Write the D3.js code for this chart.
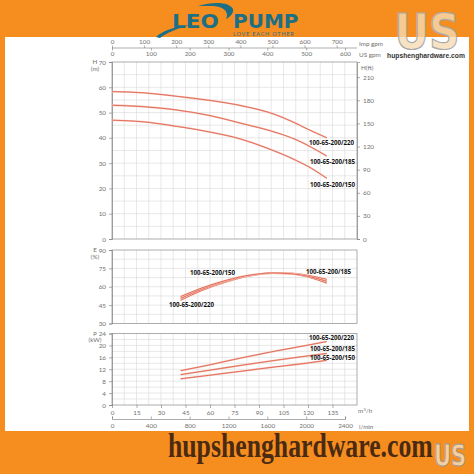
<!DOCTYPE html>
<html><head><meta charset="utf-8">
<script src="https://cdn.jsdelivr.net/npm/d3@7"></script>
<style>
html,body{margin:0;padding:0;background:#f68d1f;}
svg{display:block;}
</style></head>
<body>
<svg id="c" width="474" height="474"></svg>
<script>
// ---------- data ----------
const models = ["100-65-200/220", "100-65-200/185", "100-65-200/150"];
const headQ = [[0,20,40,60,80,100,110,120,131.5],[0,20,40,60,80,100,113,122,131.5],[0,20,40,60,80,93,113,122,131.5]];
const headH = [[58.3,57.8,56.4,54.8,52.6,49.2,46.5,43.4,40],[52.9,52.3,51,48.8,45.6,42.2,39.2,36.3,32.8],[47,46.3,44.5,42.3,39.3,36.4,31,28,24]];
const effQ = [42,55,70,85,98,110,120,131.5];
const effE = [[49,57,64,69,71.2,70.5,68,63],[50.5,58,64.6,69.2,71.2,71,69.3,66],[52,59,65.3,69.6,71.2,70.6,68.5,64.5]];
const powQ = [42,60,80,100,120,131.5];
const powP = [[11.5,13.5,15.9,18.1,20.1,21.3],[10.2,11.7,13.4,15,16.5,17.3],[8.8,10,11.4,12.8,14.1,15]];
const qTicks = [0,15,30,45,60,75,90,105,120,135];
const impTicks = [0,100,200,300,400,500,600,700];
const usTicks = [0,100,200,300,400,500,600];
const lminTicks = [0,400,800,1200,1600,2000,2400];
const hTicks = [0,10,20,30,40,50,60,70];
const ftTicks = [0,30,60,90,120,150,180,210];
const eTicks = [30,45,60,75,90];
const pTicks = [0,4,8,12,16,20,24];

const svg = d3.select("#c");
const FONT = "Lato, 'Open Sans', sans-serif";
const TICKC = "#6f6f6f";

// background
svg.append("rect").attr("width",474).attr("height",474).attr("fill","#f68d1f");
svg.append("rect").attr("x",5).attr("y",37).attr("width",464).attr("height",394).attr("fill","#ffffff");

// ---------- logo ----------
const teal = "#1d6f86";
svg.append("path").attr("d","M156,37 C162,31 174,27 190,25 C176,29 166,33 160,38 Z").attr("fill",teal);
svg.append("path").attr("d","M198,6 C214,1 230,2 233,9 C234,13 230,17 226,19 C229,14 226,7 214,6 C208,6 203,6 198,6 Z").attr("fill",teal);
svg.append("text").attr("transform","translate(172,28) scale(1.08,1)").attr("font-family","'DejaVu Sans', sans-serif").attr("font-weight","bold")
  .attr("font-size",20).attr("fill",teal).text("LEO");
svg.append("text").attr("transform","translate(233,28) scale(1.0,1)").attr("font-family","'DejaVu Sans', sans-serif").attr("font-weight","bold")
  .attr("font-size",20).attr("fill",teal).text("PUMP");
svg.append("text").attr("transform","translate(233,36) scale(1,1)").attr("font-family",FONT).attr("font-size",5.5).attr("fill",teal)
  .attr("letter-spacing",0.8).text("LOVE  EACH  OTHER");

// top-right watermark
svg.append("text").attr("transform","translate(427,49) scale(0.85,1)").attr("text-anchor","middle").attr("font-family","'DejaVu Sans', sans-serif")
  .attr("font-weight","bold").attr("font-size",50).attr("fill","#f6dcb4").attr("fill-opacity",0.8)
  .attr("stroke","#a9a9a9").attr("stroke-width",1.2).text("US");
svg.append("text").attr("transform","translate(426,58) scale(0.9,1)").attr("text-anchor","middle").attr("font-family","'Liberation Sans', sans-serif")
  .attr("font-weight","bold").attr("font-size",7.5).attr("fill","#333").text("hupshenghardware.com");

// bottom watermark
svg.append("text").attr("transform","translate(168,457) scale(0.78,1)").attr("font-family","'Liberation Serif', serif").attr("font-weight","bold")
  .attr("font-size",33).attr("fill","#4a2a12").text("hupshenghardware.com");
svg.append("text").attr("transform","translate(450,466) scale(0.7,1)").attr("text-anchor","middle").attr("font-family","'DejaVu Sans', sans-serif")
  .attr("font-weight","bold").attr("font-size",30).attr("fill","#f6dcb4").attr("fill-opacity",0.85)
  .attr("stroke","#9a9a9a").attr("stroke-width",1).text("US");

// ---------- scales ----------
const X0 = 112, X1 = 357;
const x = d3.scaleLinear().domain([0,150]).range([X0,X1]);
const yH = d3.scaleLinear().domain([0,70]).range([239,62]);
const yFt = d3.scaleLinear().domain([0,70/0.3048]).range([239,62]);
const yE = d3.scaleLinear().domain([30,90]).range([323.5,250]);
const yP = d3.scaleLinear().domain([0,24]).range([405,333.5]);
const xImp = d3.scaleLinear().domain([0,700]).range([X0,336.7]);
const xUS = d3.scaleLinear().domain([0,600]).range([X0,345]);
const xL = d3.scaleLinear().domain([0,2400]).range([X0,345]);
const fmt = d3.format("d");

function styleAxis(g){
  g.selectAll("text").attr("font-family",FONT).attr("font-size",6.3).attr("fill",TICKC);
  g.selectAll("line").attr("stroke","#777").attr("stroke-width",0.6);
  g.selectAll(".domain").attr("stroke","#777").attr("stroke-width",0.6);
}

function panel(y, gridStep, lo, hi){
  const g = svg.append("g");
  g.selectAll("line.v").data(d3.range(7.5,150,7.5)).join("line")
    .attr("x1",d=>x(d)).attr("x2",d=>x(d)).attr("y1",y.range()[1]).attr("y2",y.range()[0])
    .attr("stroke","#d8d8d8").attr("stroke-width",0.6);
  g.selectAll("line.h").data(d3.range(lo+gridStep,hi-1e-6,gridStep)).join("line")
    .attr("x1",X0).attr("x2",X1).attr("y1",d=>y(d)).attr("y2",d=>y(d))
    .attr("stroke","#d8d8d8").attr("stroke-width",0.6);
  g.append("rect").attr("x",X0).attr("y",y.range()[1]).attr("width",X1-X0).attr("height",y.range()[0]-y.range()[1])
    .attr("fill","none").attr("stroke","#8a8a8a").attr("stroke-width",0.7);
}
panel(yH,5,0,70);
panel(yE,7.5,30,90);
panel(yP,2,0,24);

// axes
svg.append("g").attr("transform",`translate(${X0},0)`).call(d3.axisLeft(yH).tickValues(hTicks).tickSize(3).tickPadding(3)).call(styleAxis);
svg.append("g").attr("transform",`translate(${X1},0)`).call(d3.axisRight(yFt).tickValues(ftTicks).tickSize(3).tickPadding(3)).call(styleAxis);
svg.append("g").attr("transform",`translate(${X0},0)`).call(d3.axisLeft(yE).tickValues(eTicks).tickSize(3).tickPadding(3)).call(styleAxis);
svg.append("g").attr("transform",`translate(${X0},0)`).call(d3.axisLeft(yP).tickValues(pTicks).tickSize(3).tickPadding(3)).call(styleAxis);
svg.append("g").attr("transform",`translate(0,405)`).call(d3.axisBottom(x).tickValues(qTicks).tickSize(3).tickPadding(2.5)).call(styleAxis)
  .call(g=>g.select(".domain").remove());
// top combined axis
svg.append("line").attr("x1",X0).attr("x2",X1).attr("y1",48).attr("y2",48).attr("stroke","#777").attr("stroke-width",0.6);
svg.append("g").attr("transform",`translate(0,48)`).call(d3.axisTop(xImp).tickValues(impTicks).tickFormat(fmt).tickSize(2.5).tickPadding(1.5)).call(styleAxis)
  .call(g=>g.select(".domain").remove());
svg.append("g").attr("transform",`translate(0,48)`).call(d3.axisBottom(xUS).tickValues(usTicks).tickFormat(fmt).tickSize(2.5).tickPadding(1.5)).call(styleAxis)
  .call(g=>g.select(".domain").remove());
// l/min axis
svg.append("g").attr("transform",`translate(0,419)`).call(d3.axisTop(xL).tickValues(lminTicks).tickSize(2.5).tickFormat(()=>""))
  .call(styleAxis);
svg.append("g").attr("transform",`translate(0,419)`).call(d3.axisBottom(xL).tickValues(lminTicks).tickFormat(fmt).tickSize(0).tickPadding(5)).call(styleAxis)
  .call(g=>g.select(".domain").remove());

// unit labels
function lab(t,xx,yy,anchor){
  svg.append("text").attr("x",xx).attr("y",yy).attr("font-family",FONT).attr("font-size",6.3).attr("fill",TICKC)
    .attr("text-anchor",anchor||"start").text(t);
}
lab("Imp gpm",359,46); lab("US gpm",359,57); lab("H(ft)",361,70);
lab("H",95,64,"middle"); lab("(m)",95,71,"middle");
lab("E",95,252,"middle"); lab("(%)",95,259,"middle");
lab("p",95,335,"middle"); lab("(kW)",95,342,"middle");
svg.append("text").attr("x",358).attr("y",413).attr("font-family",FONT).attr("font-size",6.3).attr("fill",TICKC)
  .html('m<tspan dy="-2" font-size="4.5">3</tspan><tspan dy="2">/h</tspan>');
lab("l/min",359,429);

// ---------- curves ----------
function drawCurves(qs, vs, y){
  vs.forEach((vals,i)=>{
    const q = Array.isArray(qs[0]) ? qs[i] : qs;
    const pts = q.map((d,j)=>[d,vals[j]]);
    const line = d3.line().x(d=>x(d[0])).y(d=>y(d[1])).curve(d3.curveMonotoneX);
    svg.append("path").attr("d",line(pts)).attr("fill","none").attr("stroke","#f6c3b5").attr("stroke-width",1.8);
    svg.append("path").attr("d",line(pts)).attr("fill","none").attr("stroke","#d94a36").attr("stroke-width",0.7);
  });
}
drawCurves(headQ, headH, yH);
drawCurves(effQ, effE, yE);
drawCurves(powQ, powP, yP);

// curve labels
function clab(t,xx,yy){
  svg.append("text").attr("x",xx).attr("y",yy).attr("font-family","'Open Sans', sans-serif").attr("font-weight","bold")
    .attr("font-size",7).attr("fill","#111").attr("textLength",45).attr("lengthAdjust","spacingAndGlyphs").text(t);
}
clab(models[0],309,145); clab(models[1],310,164); clab(models[2],310,187);
clab(models[2],190,275); clab(models[1],306,273.5); clab(models[0],169,307);
clab(models[0],309,340); clab(models[1],310,351); clab(models[2],310,359.5);
</script>
</body></html>
